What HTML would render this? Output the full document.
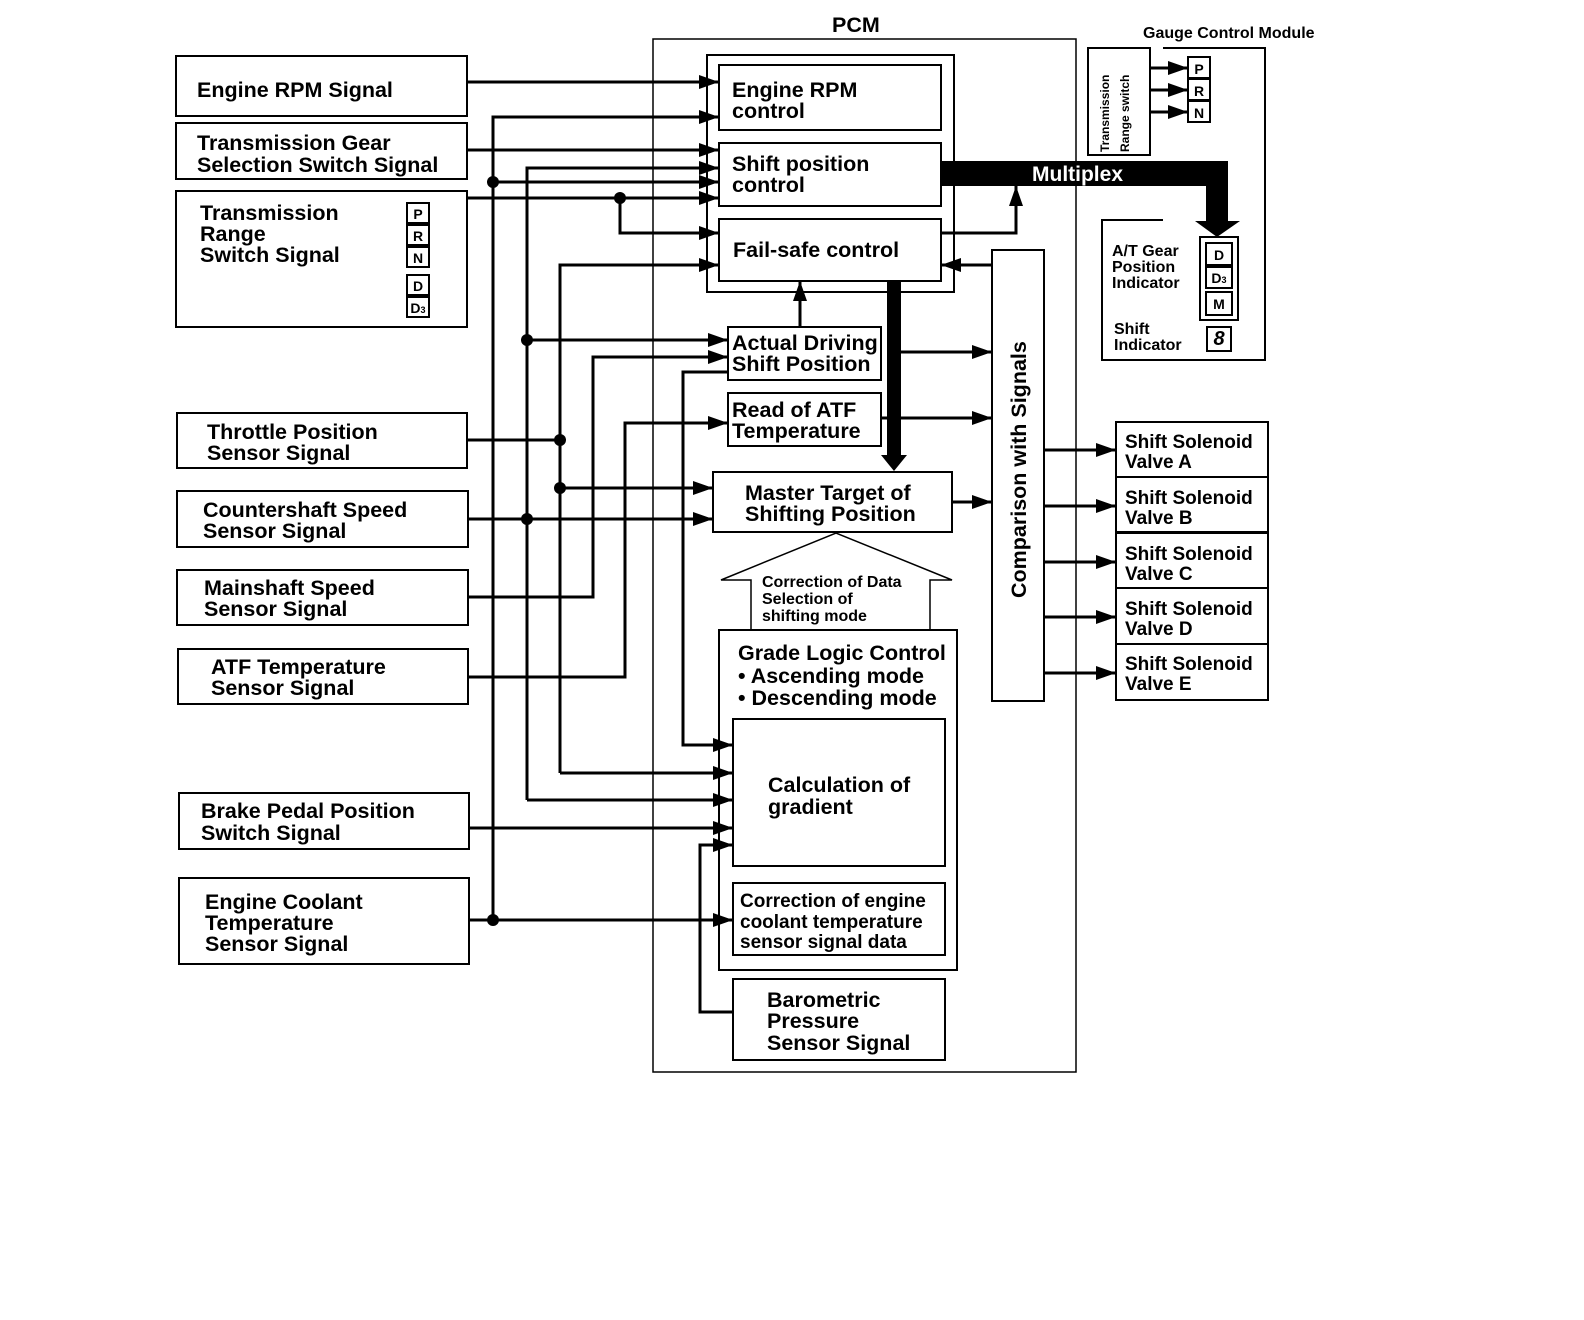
<!DOCTYPE html>
<html><head><meta charset="utf-8"><style>
html,body{margin:0;padding:0;background:#fff}
svg{display:block}
text{font-family:"Liberation Sans",Arial,sans-serif;font-weight:bold;fill:#000}
</style></head><body>
<svg width="1584" height="1320" viewBox="0 0 1584 1320" xmlns="http://www.w3.org/2000/svg">
<defs>
<marker id="A" markerWidth="20" markerHeight="14" refX="20" refY="7" orient="auto" markerUnits="userSpaceOnUse" viewBox="0 0 20 14">
<path d="M0,0 L20,7 L0,14 z" fill="#000"/></marker>
</defs>
<g fill="none" stroke="#000" stroke-width="2">
<rect x="176" y="56" width="291" height="60"/>
<rect x="176" y="123" width="291" height="56"/>
<rect x="176" y="191" width="291" height="136"/>
<rect x="177" y="413" width="290" height="55"/>
<rect x="177" y="491" width="291" height="56"/>
<rect x="177" y="570" width="291" height="55"/>
<rect x="178" y="649" width="290" height="55"/>
<rect x="179" y="793" width="290" height="56"/>
<rect x="179" y="878" width="290" height="86"/>
<rect x="407" y="203" width="22" height="20"/>
<rect x="407" y="225" width="22" height="20"/>
<rect x="407" y="247" width="22" height="20"/>
<rect x="407" y="275" width="22" height="20"/>
<rect x="407" y="297" width="22" height="20"/>
<rect x="653" y="39" width="423" height="1033" stroke-width="1.5"/>
<rect x="707" y="55" width="247" height="237"/>
<rect x="719" y="65" width="222" height="65"/>
<rect x="719" y="143" width="222" height="63"/>
<rect x="719" y="219" width="222" height="62"/>
<rect x="728" y="327" width="153" height="53"/>
<rect x="728" y="393" width="153" height="53"/>
<rect x="713" y="472" width="239" height="60"/>
<rect x="992" y="250" width="52" height="451"/>
<polygon points="751,630 751,580 721,580 836,533 952,580 930,580 930,630" stroke-width="1.5"/>
<rect x="719" y="630" width="238" height="340"/>
<rect x="733" y="719" width="212" height="147"/>
<rect x="733" y="883" width="212" height="72"/>
<rect x="733" y="979" width="212" height="81"/>
<path d="M1163,48 H1265 V360 H1102 V220 H1163"/>
<rect x="1088" y="48" width="62" height="107"/>
<rect x="1188" y="57" width="22" height="21"/>
<rect x="1188" y="79" width="22" height="21"/>
<rect x="1188" y="101" width="22" height="21"/>
<rect x="1200" y="237" width="38" height="83"/>
<rect x="1206" y="243" width="26" height="22"/>
<rect x="1206" y="267" width="26" height="21"/>
<rect x="1206" y="292" width="26" height="23"/>
<rect x="1207" y="327" width="24" height="24"/>
<rect x="1116" y="422" width="152" height="55"/>
<rect x="1116" y="477" width="152" height="55"/>
<rect x="1116" y="533" width="152" height="55"/>
<rect x="1116" y="588" width="152" height="56"/>
<rect x="1116" y="644" width="152" height="56"/>
</g>
<g fill="none" stroke="#000" stroke-width="3">
<path d="M467,82 H719" marker-end="url(#A)"/>
<path d="M467,150 H719" marker-end="url(#A)"/>
<path d="M467,198 H719" marker-end="url(#A)"/>
<path d="M620,198 V233 H719" marker-end="url(#A)"/>
<path d="M493,920 V117 H719" marker-end="url(#A)"/>
<path d="M493,182 H719" marker-end="url(#A)"/>
<path d="M469,920 H733" marker-end="url(#A)"/>
<path d="M527,800 V168 H719" marker-end="url(#A)"/>
<path d="M527,800 H733" marker-end="url(#A)"/>
<path d="M527,340 H728" marker-end="url(#A)"/>
<path d="M468,519 H713" marker-end="url(#A)"/>
<path d="M560,773 V265 H719" marker-end="url(#A)"/>
<path d="M560,773 H733" marker-end="url(#A)"/>
<path d="M467,440 H560"/>
<path d="M560,488 H713" marker-end="url(#A)"/>
<path d="M468,597 H593 V357 H728" marker-end="url(#A)"/>
<path d="M468,677 H625 V423 H728" marker-end="url(#A)"/>
<path d="M728,372 H683 V745 H733" marker-end="url(#A)"/>
<path d="M469,828 H733" marker-end="url(#A)"/>
<path d="M733,1012 H700 V845 H733" marker-end="url(#A)"/>
<path d="M800,327 V281" marker-end="url(#A)"/>
<path d="M901,352 H992" marker-end="url(#A)"/>
<path d="M881,418 H992" marker-end="url(#A)"/>
<path d="M952,502 H992" marker-end="url(#A)"/>
<path d="M992,265 H941" marker-end="url(#A)"/>
<path d="M941,233 H1016 V186" marker-end="url(#A)"/>
<path d="M1044,450 H1116" marker-end="url(#A)"/>
<path d="M1044,506 H1116" marker-end="url(#A)"/>
<path d="M1044,562 H1116" marker-end="url(#A)"/>
<path d="M1044,617 H1116" marker-end="url(#A)"/>
<path d="M1044,673 H1116" marker-end="url(#A)"/>
<path d="M1150,68 H1188" marker-end="url(#A)"/>
<path d="M1150,90 H1188" marker-end="url(#A)"/>
<path d="M1150,112 H1188" marker-end="url(#A)"/>
</g>
<g fill="#000">
<circle cx="493" cy="182" r="6"/><circle cx="493" cy="920" r="6"/>
<circle cx="527" cy="340" r="6"/><circle cx="527" cy="519" r="6"/>
<circle cx="560" cy="440" r="6"/><circle cx="560" cy="488" r="6"/>
<circle cx="620" cy="198" r="6"/>
<rect x="887" y="281" width="14" height="176"/>
<polygon points="881,455 907,455 894,471"/>
<rect x="941" y="161" width="287" height="25"/>
<rect x="1206" y="161" width="22" height="62"/>
<polygon points="1195,221 1240,221 1217,237"/>
</g>
<text x="1032" y="181" font-size="21" style="fill:#fff">Multiplex</text>
<g font-size="21.5">
<text x="197" y="97">Engine RPM Signal</text>
<text x="197" y="150">Transmission Gear</text>
<text x="197" y="172">Selection Switch Signal</text>
<text x="200" y="220">Transmission</text>
<text x="200" y="241">Range</text>
<text x="200" y="262">Switch Signal</text>
<text x="207" y="439">Throttle Position</text>
<text x="207" y="460">Sensor Signal</text>
<text x="203" y="517">Countershaft Speed</text>
<text x="203" y="538">Sensor Signal</text>
<text x="204" y="595">Mainshaft Speed</text>
<text x="204" y="616">Sensor Signal</text>
<text x="211" y="674">ATF Temperature</text>
<text x="211" y="695">Sensor Signal</text>
<text x="201" y="818">Brake Pedal Position</text>
<text x="201" y="840">Switch Signal</text>
<text x="205" y="909">Engine Coolant</text>
<text x="205" y="930">Temperature</text>
<text x="205" y="951">Sensor Signal</text>
<text x="832" y="32">PCM</text>
<text x="732" y="97">Engine RPM</text>
<text x="732" y="118">control</text>
<text x="732" y="171">Shift position</text>
<text x="732" y="192">control</text>
<text x="733" y="257">Fail-safe control</text>
<text x="732" y="350">Actual Driving</text>
<text x="732" y="371">Shift Position</text>
<text x="732" y="417">Read of ATF</text>
<text x="732" y="438">Temperature</text>
<text x="745" y="500">Master Target of</text>
<text x="745" y="521">Shifting Position</text>
<text x="738" y="660">Grade Logic Control</text>
<text x="738" y="683">• Ascending mode</text>
<text x="738" y="705">• Descending mode</text>
<text x="768" y="792">Calculation of</text>
<text x="768" y="814">gradient</text>
<text x="767" y="1007">Barometric</text>
<text x="767" y="1028">Pressure</text>
<text x="767" y="1050">Sensor Signal</text>
<text transform="translate(1026,598) rotate(-90)">Comparison with Signals</text>
</g>
<g font-size="19">
<text x="740" y="907">Correction of engine</text>
<text x="740" y="928">coolant temperature</text>
<text x="740" y="948">sensor signal data</text>
<text x="1125" y="448">Shift Solenoid</text><text x="1125" y="468">Valve A</text>
<text x="1125" y="504">Shift Solenoid</text><text x="1125" y="524">Valve B</text>
<text x="1125" y="560">Shift Solenoid</text><text x="1125" y="580">Valve C</text>
<text x="1125" y="615">Shift Solenoid</text><text x="1125" y="635">Valve D</text>
<text x="1125" y="670">Shift Solenoid</text><text x="1125" y="690">Valve E</text>
</g>
<g font-size="16">
<text x="762" y="587">Correction of Data</text>
<text x="762" y="604">Selection of</text>
<text x="762" y="621">shifting mode</text>
<text x="1143" y="38">Gauge Control Module</text>
<text x="1112" y="256">A/T Gear</text>
<text x="1112" y="272">Position</text>
<text x="1112" y="288">Indicator</text>
<text x="1114" y="334">Shift</text>
<text x="1114" y="350">Indicator</text>
</g>
<g font-size="12">
<text transform="translate(1109,152) rotate(-90)">Transmission</text>
<text transform="translate(1129,152) rotate(-90)">Range switch</text>
</g>
<g font-size="14" text-anchor="middle">
<text x="418" y="219">P</text><text x="418" y="241">R</text><text x="418" y="263">N</text>
<text x="418" y="291">D</text><text x="418" y="313">D<tspan font-size="9">3</tspan></text>
<text x="1199" y="74">P</text><text x="1199" y="96">R</text><text x="1199" y="118">N</text>
<text x="1219" y="260">D</text><text x="1219" y="283">D<tspan font-size="9">3</tspan></text>
<text x="1219" y="309">M</text>
<text x="1219" y="345" font-size="20" font-weight="normal" style="font-style:italic">8</text>
</g>
</svg>
</body></html>
